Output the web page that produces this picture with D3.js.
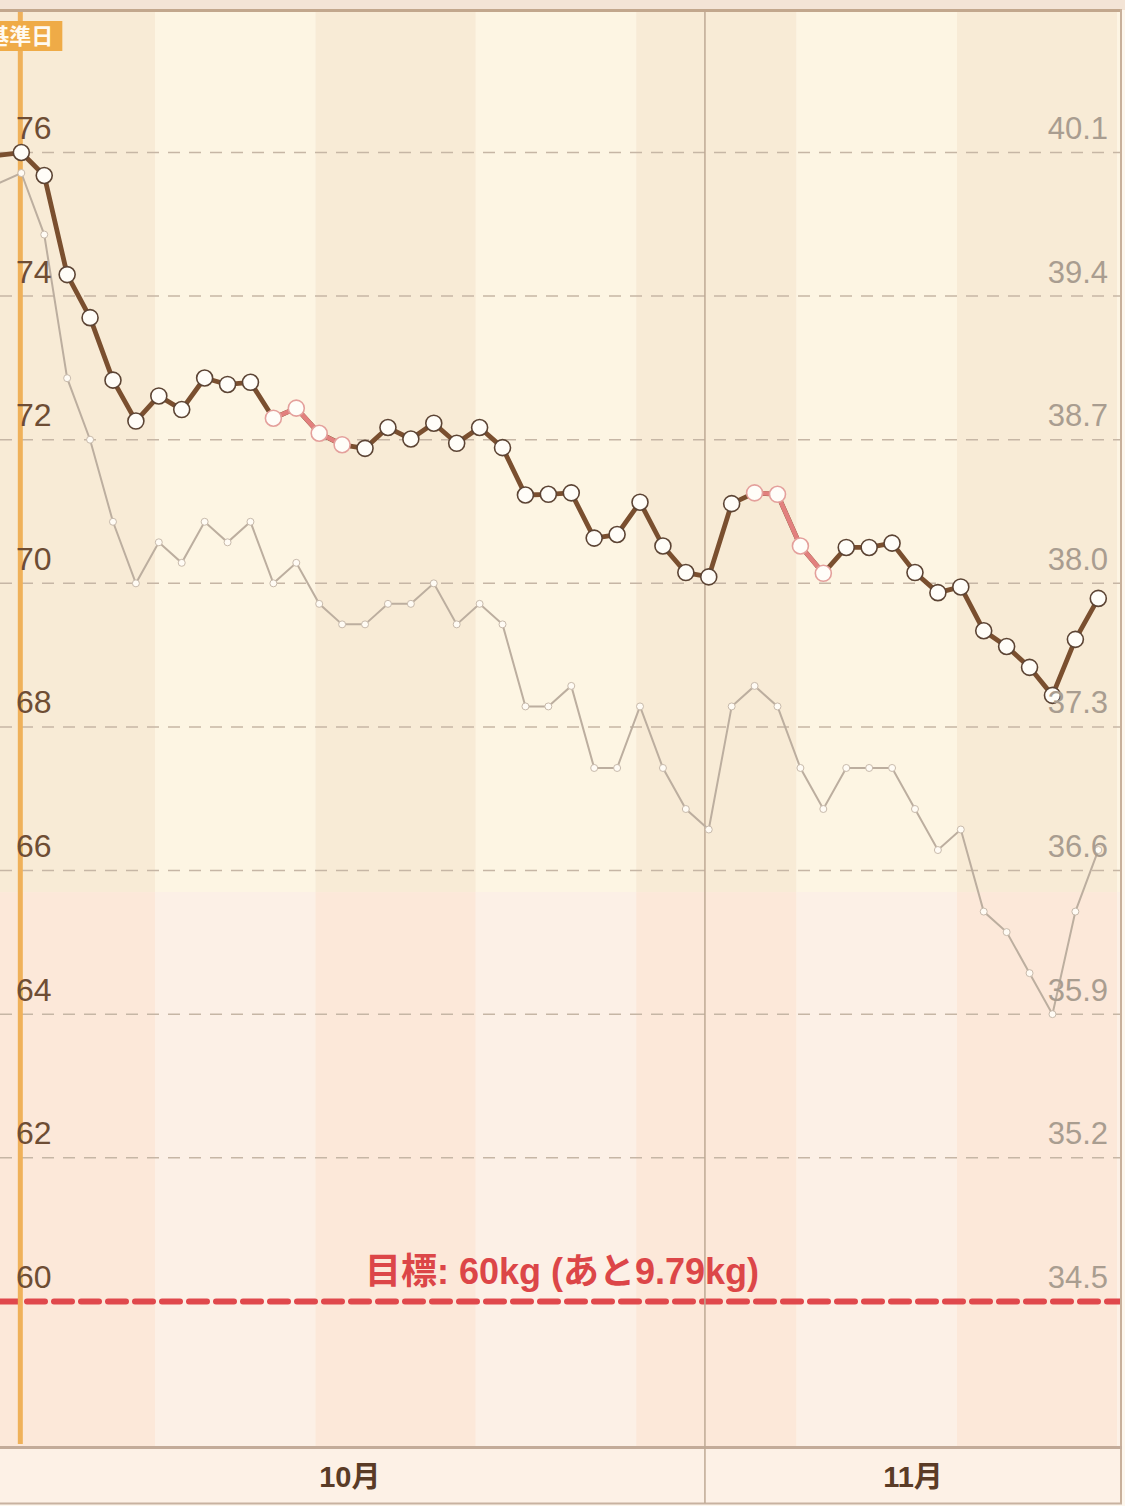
<!DOCTYPE html>
<html><head><meta charset="utf-8">
<script src="https://cdn.jsdelivr.net/npm/d3@7"></script>
<style>html,body{margin:0;padding:0;background:#fdf7ee;} svg{display:block}</style>
</head><body><svg id="c" width="1125" height="1506"></svg>
<script>
// ---------- data ----------
const dates = ["2023-09-30",
  "2023-10-02","2023-10-03","2023-10-04","2023-10-05","2023-10-06","2023-10-07","2023-10-08","2023-10-09","2023-10-10",
  "2023-10-11","2023-10-12","2023-10-13","2023-10-14","2023-10-15","2023-10-16","2023-10-17","2023-10-18","2023-10-19","2023-10-20",
  "2023-10-21","2023-10-22","2023-10-23","2023-10-24","2023-10-25","2023-10-26","2023-10-27","2023-10-28","2023-10-29","2023-10-30",
  "2023-10-31","2023-11-01","2023-11-02","2023-11-03","2023-11-04","2023-11-05","2023-11-06","2023-11-07","2023-11-08","2023-11-09",
  "2023-11-10","2023-11-11","2023-11-12","2023-11-13","2023-11-14","2023-11-15","2023-11-16","2023-11-17","2023-11-18"];
const weight = [75.92,
  76.00,75.68,74.30,73.70,72.83,72.26,72.61,72.42,72.86,
  72.77,72.80,72.30,72.44,72.09,71.93,71.88,72.17,72.01,72.23,
  71.95,72.17,71.89,71.23,71.24,71.26,70.63,70.68,71.13,70.52,
  70.15,70.09,71.11,71.26,71.24,70.52,70.14,70.50,70.50,70.56,
  70.15,69.87,69.95,69.34,69.12,68.83,68.44,69.22,69.79];
const bodyFat = [39.9,
  40.0,39.7,39.0,38.7,38.3,38.0,38.2,38.1,38.3,
  38.2,38.3,38.0,38.1,37.9,37.8,37.8,37.9,37.9,38.0,
  37.8,37.9,37.8,37.4,37.4,37.5,37.1,37.1,37.4,37.1,
  36.9,36.8,37.4,37.5,37.4,37.1,36.9,37.1,37.1,37.1,
  36.9,36.7,36.8,36.4,36.3,36.1,35.9,36.4,36.7];
const pinkDates = ["2023-10-13","2023-10-14","2023-10-15","2023-10-16",
                   "2023-11-03","2023-11-04","2023-11-05","2023-11-06"];
const referenceDate = "2023-10-02";
const leftTicks = [76,74,72,70,68,66,64,62,60];
const rightTicks = [40.1,39.4,38.7,38.0,37.3,36.6,35.9,35.2,34.5];
const monthStarts = ["2023-10-01","2023-11-01","2023-12-01"];
const monthLabels = ["10月","11月"];
const goalWeight = 60;
const goalText = "目標: 60kg (あと9.79kg)";
const zoneBoundary = 65.7;

// ---------- layout ----------
const W = 1125, H = 1506;
const plot = {left:0, right:1120, top:12, bottom:1446};
const axisBottom = 1503;
const svg = d3.select("#c");
const T = s => new Date(s + "T04:00:00Z");
const D = s => new Date(s + "T00:00:00Z");

const x = d3.scaleUtc()
  .domain([new Date("2023-10-01T05:40:00Z"), new Date("2023-11-19T02:44:00Z")])
  .range([plot.left, plot.right]);
const y = d3.scaleLinear().domain([58, 78]).range([1445, 8.9]);
const yR = d3.scaleLinear().domain([33.8, 40.8]).range([1445, 8.9]);

const data = dates.map((d,i)=>({t:T(d), w:weight[i], f:bodyFat[i], pink:pinkDates.includes(d)}));

// page top strip
svg.append("rect").attr("x",0).attr("y",0).attr("width",W).attr("height",10).attr("fill","#f3e4d6");

// clip
svg.append("defs").append("clipPath").attr("id","pc").append("rect")
  .attr("x",plot.left).attr("y",plot.top).attr("width",plot.right-plot.left).attr("height",plot.bottom-plot.top);

const g = svg.append("g").attr("clip-path","url(#pc)");

// weekly bands (weeks start Sunday)
const weeks = d3.utcSunday.range(new Date("2023-09-24T00:00:00Z"), new Date("2023-11-27T00:00:00Z"));
const yb = y(zoneBoundary);
weeks.forEach((wk,i)=>{
  const x0 = x(wk), x1 = x(d3.utcDay.offset(wk,7));
  const dark = (i % 2 === 1);
  g.append("rect").attr("x",x0).attr("y",plot.top).attr("width",x1-x0).attr("height",yb-plot.top)
    .attr("fill", dark ? "#f8ebd6" : "#fdf5e3");
  g.append("rect").attr("x",x0).attr("y",yb).attr("width",x1-x0).attr("height",plot.bottom-yb)
    .attr("fill", dark ? "#fce8d9" : "#fcf0e6");
});

// gridlines
g.selectAll("line.grid").data(leftTicks.filter(v=>v!==goalWeight)).enter().append("line")
  .attr("x1",plot.left).attr("x2",plot.right).attr("y1",d=>y(d)).attr("y2",d=>y(d))
  .attr("stroke","#c6b6a5").attr("stroke-width",1.5).attr("stroke-dasharray","12,9");

// goal line + text
g.append("line").attr("x1",plot.left).attr("x2",plot.right).attr("y1",y(goalWeight)).attr("y2",y(goalWeight))
  .attr("stroke","#e0484c").attr("stroke-width",6).attr("stroke-dasharray","18,9").attr("stroke-linecap","round");
svg.append("text").attr("x",(plot.left+plot.right)/2 + 2).attr("y",y(goalWeight)-17)
  .attr("text-anchor","middle").attr("font-family","'Liberation Sans','Noto Sans CJK JP',sans-serif")
  .attr("font-weight","bold").attr("font-size",36).attr("fill","#dc4648").text(goalText);

// month dividers
monthStarts.forEach(m=>{
  const xm = x(D(m));
  if (xm>plot.left+2 && xm<plot.right-2)
    svg.append("line").attr("x1",xm).attr("x2",xm).attr("y1",plot.top).attr("y2",axisBottom)
      .attr("stroke","#bea994").attr("stroke-width",1.5);
});

// reference line
const xr = x(T(referenceDate)) - 1;
svg.append("line").attr("x1",xr).attr("x2",xr).attr("y1",plot.top).attr("y2",plot.bottom-2)
  .attr("stroke","#efb15a").attr("stroke-width",5);
svg.append("rect").attr("x",xr-42).attr("y",21).attr("width",84).attr("height",30).attr("fill","#efab47");
svg.append("text").attr("x",xr).attr("y",44).attr("text-anchor","middle")
  .attr("font-family","'Noto Sans CJK JP',sans-serif").attr("font-weight","bold").attr("font-size",22)
  .attr("fill","#fffaf0").text("基準日");

// gray body-fat series
const sg = svg.append("g").attr("clip-path","url(#pc)");
sg.append("path").datum(data).attr("fill","none").attr("stroke","#bcae9f").attr("stroke-width",2)
  .attr("d", d3.line().x(d=>x(d.t)).y(d=>yR(d.f)));
sg.selectAll("circle.f").data(data).enter().append("circle")
  .attr("cx",d=>x(d.t)).attr("cy",d=>yR(d.f)).attr("r",3.5)
  .attr("fill","#fffbf4").attr("stroke","#c8baab").attr("stroke-width",1);

// weight series
sg.append("path").datum(data).attr("fill","none").attr("stroke","#7a4f2f").attr("stroke-width",4.8)
  .attr("stroke-linejoin","round")
  .attr("d", d3.line().x(d=>x(d.t)).y(d=>y(d.w)));
for (let i=1;i<data.length;i++){
  if (data[i].pink && data[i-1].pink){
    sg.append("line").attr("x1",x(data[i-1].t)).attr("y1",y(data[i-1].w))
      .attr("x2",x(data[i].t)).attr("y2",y(data[i].w))
      .attr("stroke","#e2807e").attr("stroke-width",4.5).attr("stroke-linecap","round");
  }
}
sg.selectAll("circle.w").data(data).enter().append("circle")
  .attr("cx",d=>x(d.t)).attr("cy",d=>y(d.w)).attr("r",8)
  .attr("fill","#fffdf8").attr("stroke",d=>d.pink?"#e4a09c":"#5c4434").attr("stroke-width",1.6);

// left axis labels
const la = svg.append("g").call(d3.axisRight(y).tickValues(leftTicks).tickSize(0).tickFormat(d3.format("d")));
la.select(".domain").remove();
la.selectAll("text").attr("x",16).attr("dy",null).attr("y",-14)
  .attr("font-family","'Liberation Sans',Arial,sans-serif").attr("font-size",32).attr("fill","#6e4d34")
  .attr("text-anchor","start");

// right axis labels
const ra = svg.append("g").attr("transform",`translate(${plot.right-12},0)`)
  .call(d3.axisLeft(yR).tickValues(rightTicks).tickSize(0).tickFormat(d3.format(".1f")));
ra.select(".domain").remove();
ra.selectAll("text").attr("x",0).attr("dy",null).attr("y",-14)
  .attr("font-family","'Liberation Sans',Arial,sans-serif").attr("font-size",31).attr("fill","#a99d90")
  .attr("text-anchor","end");

// borders
svg.append("line").attr("x1",0).attr("x2",plot.right+2).attr("y1",10.5).attr("y2",10.5)
  .attr("stroke","#c2a78d").attr("stroke-width",3);
svg.append("line").attr("x1",plot.right+1).attr("x2",plot.right+1).attr("y1",9).attr("y2",axisBottom+1)
  .attr("stroke","#c8b09b").attr("stroke-width",2);

// x axis strip
svg.append("rect").attr("x",0).attr("y",plot.bottom+1.5).attr("width",plot.right).attr("height",axisBottom-plot.bottom-1.5)
  .attr("fill","#fdf1e6");
svg.append("line").attr("x1",0).attr("x2",plot.right+2).attr("y1",plot.bottom+1.5).attr("y2",plot.bottom+1.5)
  .attr("stroke","#c3ab99").attr("stroke-width",3);
svg.append("line").attr("x1",0).attr("x2",plot.right+2).attr("y1",axisBottom+0.5).attr("y2",axisBottom+0.5)
  .attr("stroke","#c8b2a0").attr("stroke-width",2);
monthStarts.forEach(m=>{
  const xm = x(D(m));
  if (xm>plot.left+2 && xm<plot.right-2)
    svg.append("line").attr("x1",xm).attr("x2",xm).attr("y1",plot.bottom).attr("y2",axisBottom)
      .attr("stroke","#bea994").attr("stroke-width",1.5);
});
const mg = svg.append("g");
monthLabels.forEach((lab,i)=>{
  const a = x(D(monthStarts[i]));
  const b = Math.min(x(D(monthStarts[i+1])), plot.right + 1);
  mg.append("text").attr("x",(a+b)/2).attr("y",1487).attr("text-anchor","middle")
    .attr("font-family","'Liberation Sans','Noto Sans CJK JP',sans-serif").attr("font-weight","bold")
    .attr("font-size",29).attr("fill","#5a3b26").text(lab);
});
</script></body></html>
